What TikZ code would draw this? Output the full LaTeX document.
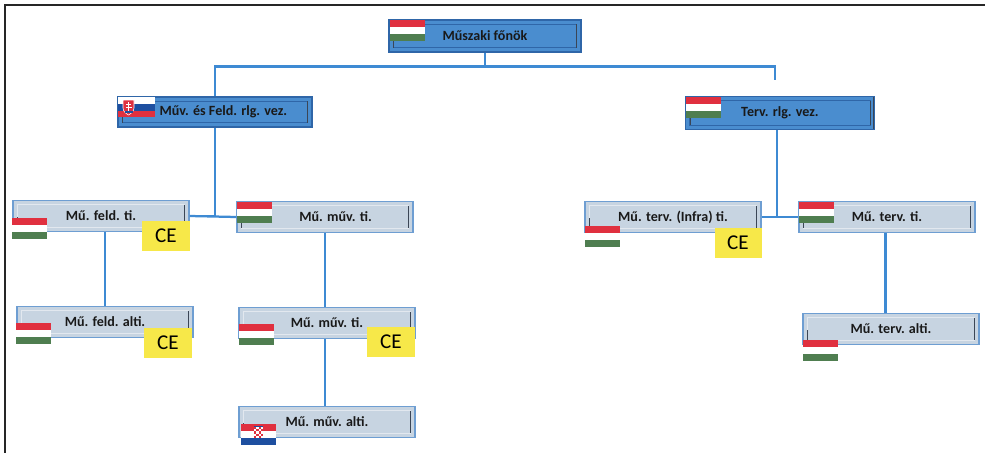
\documentclass[tikz,border=0pt]{standalone}
\usepackage{fontspec}
\setmainfont{Carlito}
\usetikzlibrary{calc}

\definecolor{linkblue}{HTML}{3E8AD3}
\definecolor{darkfill}{HTML}{4A8DCF}
\definecolor{darkedge}{HTML}{2F66A8}
\definecolor{lightfill}{HTML}{C7D4E1}
\definecolor{lightedge}{HTML}{6E9ED2}
\definecolor{innerline}{HTML}{E2E8EF}
\definecolor{shadeline}{HTML}{3B4656}
\definecolor{flagred}{HTML}{E0303F}
\definecolor{flaggreen}{HTML}{4F7E50}
\definecolor{flagblue}{HTML}{1E4FA0}
\definecolor{ceyellow}{HTML}{F7E849}

% flags, given by their top left corner
\newcommand{\huflag}[2]{%
  \fill[flagred] (#1,#2) rectangle ++(35,7);
  \fill[white] (#1,#2+7) rectangle ++(35,7);
  \fill[flaggreen] (#1,#2+14) rectangle ++(35,7);
}
\newcommand{\skflag}[2]{%
  \fill[white] (#1,#2) rectangle ++(37,7);
  \fill[flagblue] (#1,#2+7) rectangle ++(37,6.5);
  \fill[flagred] (#1,#2+13.5) rectangle ++(37,6.5);
  \filldraw[fill=flagred, draw=white, line width=0.4pt]
    (#1+5,#2+3) -- (#1+16,#2+3) -- (#1+16,#2+11)
    .. controls (#1+16,#2+15) and (#1+12,#2+17) .. (#1+10.5,#2+18)
    .. controls (#1+9,#2+17) and (#1+5,#2+15) .. (#1+5,#2+11) -- cycle;
  \fill[white] (#1+10,#2+5) rectangle ++(1.2,9);
  \fill[white] (#1+8,#2+7) rectangle ++(5.2,1.2);
  \fill[white] (#1+7.5,#2+9.5) rectangle ++(6.2,1.2);
  \fill[flagblue] (#1+6.5,#2+14) rectangle ++(8,2);
}
\newcommand{\hrflag}[2]{%
  \fill[flagred] (#1,#2) rectangle ++(35,7);
  \fill[white] (#1,#2+7) rectangle ++(35,7);
  \fill[flagblue] (#1,#2+14) rectangle ++(35,7);
  \fill[white] (#1+13,#2+3) rectangle ++(9,11);
  \foreach \i in {0,...,3} {
    \foreach \j in {0,...,4} {
      \pgfmathtruncatemacro\ckpar{mod(\i+\j,2)}
      \ifnum\ckpar=0
        \fill[flagred] (#1+13+\i*2.25,#2+3+\j*2.2) rectangle ++(2.25,2.2);
      \fi
    }
  }
  \fill[flagblue] (#1+13,#2+2) rectangle ++(9,1.2);
}

\begin{document}
\begin{tikzpicture}[x=0.025cm, y=-0.025cm,
  orgbox/.style={inner sep=0pt, text=black!90, line width=0.8pt,
    font=\bfseries\fontsize{10}{12}\selectfont,
    path picture={
      \draw[#1, line width=0.7pt]
        ([shift={(3pt,-3pt)}]path picture bounding box.north west) rectangle
        ([shift={(-3pt,3pt)}]path picture bounding box.south east);
      \draw[shadeline, line width=0.8pt]
        ([shift={(-3pt,-3pt)}]path picture bounding box.north east) --
        ([shift={(-3pt,3pt)}]path picture bounding box.south east);
      \draw[shadeline, line width=0.8pt]
        ([shift={(3.5pt,-12pt)}]path picture bounding box.north west) --
        ([shift={(3.5pt,3pt)}]path picture bounding box.south west);
      \draw[shadeline, line width=1.4pt]
        (path picture bounding box.north east) --
        (path picture bounding box.south east);
    }},
  darkbox/.style={orgbox=darkedge, draw=darkedge, fill=darkfill,
    minimum width=4.8cm, minimum height=0.8cm},
  lightbox/.style={orgbox=innerline, draw=lightedge, fill=lightfill,
    minimum width=4.4cm, minimum height=0.78cm},
  cetag/.style={fill=ceyellow, inner sep=0pt, minimum width=1.175cm,
    minimum height=0.725cm, font=\fontsize{15}{18}\selectfont},
  link/.style={draw=linkblue, line width=1.6pt},
  frame/.style={draw=black!85, line width=1.3pt}]

  \useasboundingbox (0,0) rectangle (985,453);

  % Frame
  \draw[frame] (5,453) -- (5,5) -- (985,5);

  % Boxes
  \node[darkbox] (chief) at (485,36) {Műszaki főnök};
  \node[darkbox, minimum width=4.85cm, minimum height=0.75cm] (opsmgr) at (215,112) {\hspace{1.2em}Műv. és Feld. rlg. vez.};
  \node[darkbox, minimum width=4.72cm, minimum height=0.82cm] (planmgr) at (780,113) {Terv. rlg. vez.};

  \node[lightbox] (fieldti) at (101,216) {Mű. feld. ti.};
  \node[lightbox] (workti) at (325,217) {\hspace{1.5em}Mű. műv. ti.};
  \node[lightbox] (fieldalti) at (105,322) {Mű. feld. alti.};
  \node[lightbox] (workti2) at (327,323) {Mű. műv. ti.};
  \node[lightbox] (workalti) at (327,422) {Mű. műv. alti.};

  \node[lightbox] (infrati) at (673,217) {Mű. terv. (Infra) ti.};
  \node[lightbox] (planti) at (887,217) {Mű. terv. ti.};
  \node[lightbox] (planalti) at (891,329) {Mű. terv. alti.};

  % Connectors
  \coordinate (planend) at (775,80);
  \draw[link] (chief.south) -- ++(0,14) -| (opsmgr.north);
  \draw[link] (chief.south) ++(0,14) -| (planend);
  \draw[link] (opsmgr.south) |- (fieldti.east);
  \draw[link] (fieldti.east) -- (workti.west);
  \draw[link] (fieldalti.north) -- (fieldalti.north |- fieldti.south);
  \draw[link] (workti.south) -- (workti.south |- workti2.north);
  \draw[link] (workti.south |- workti2.south) -- (workti.south |- workalti.north);
  \draw[link] ([xshift=-2pt]planmgr.south) |- (infrati.east);
  \draw[link] (infrati.east) -- (planti.west);
  \draw[link] ([xshift=-1pt]planti.south) -- ([xshift=-1pt]planti.south |- planalti.north);

  % Flags
  \huflag{390}{20}
  \skflag{118}{97}
  \huflag{686}{97}
  \huflag{12}{218}
  \huflag{237}{202}
  \huflag{16}{323}
  \huflag{239}{324}
  \hrflag{241}{424}
  \huflag{585}{226}
  \huflag{799}{202}
  \huflag{803}{340}

  % CE tags
  \node[cetag] (cefield) at (166,236) {CE};
  \node[cetag] (cefieldalti) at (168,343) {CE};
  \node[cetag] (ceworkti) at (391,342) {CE};
  \node[cetag] (ceinfra) at (738,243) {CE};
\end{tikzpicture}
\end{document}
